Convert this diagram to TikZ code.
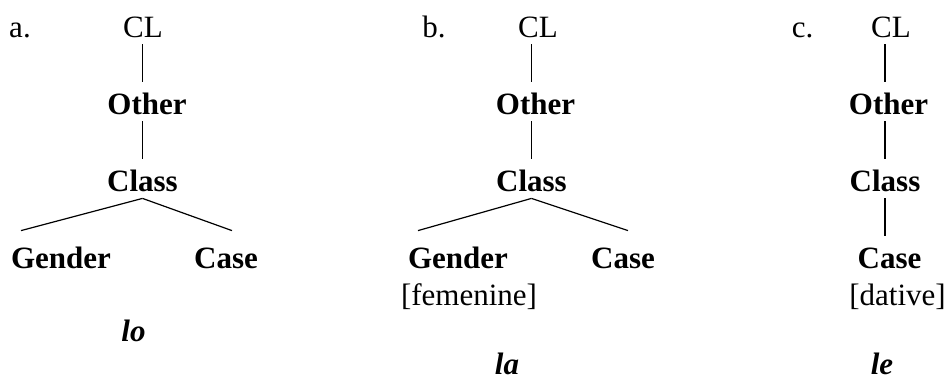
\documentclass[tikz,border=0pt]{standalone}
\usepackage{fontspec}
\setmainfont{Liberation Serif}
\usepackage{tikz}
\usetikzlibrary{positioning}
\newcommand{\treesize}{\fontsize{15.5}{18.5}\selectfont}
\tikzstyle{lbl} = [inner xsep=2pt, inner ysep=2pt, text height=14pt, text depth=1.5pt, font=\treesize]
\tikzstyle{cat} = [lbl, font=\treesize\bfseries]
\tikzstyle{form} = [lbl, font=\treesize\bfseries\itshape]
\tikzstyle{line} = [draw, line width=0.6pt]

\begin{document}
\begin{tikzpicture}[node distance=38.5pt]
    \useasboundingbox (0,0) rectangle (474pt,-190.5pt);
    % Tree a
    \node [lbl] (lbla) at (10pt,-12.25pt) {a.};
    \node [lbl] (cla) at (71.5pt,-12.25pt) {CL};
    \node [cat, below of=cla, xshift=2pt] (otha) {Other};
    \node [cat, below of=otha, xshift=-2.25pt] (clsa) {Class};
    \node [cat, below of=clsa, xshift=-40.75pt] (gena) {Gender};
    \node [cat, below of=clsa, xshift=41.75pt] (casa) {Case};
    \node [form] (lo) at (66.75pt,-164.25pt) {lo};
    % Tree b
    \node [lbl] (lblb) at (217pt,-12.25pt) {b.};
    \node [lbl] (clb) at (269pt,-12.25pt) {CL};
    \node [cat, below of=clb, xshift=-1.25pt] (othb) {Other};
    \node [cat, below of=othb, xshift=-2pt] (clsb) {Class};
    \node [cat, below of=clsb, xshift=-36.75pt] (genb) {Gender};
    \node [cat, below of=clsb, xshift=45.75pt] (casb) {Case};
    \node [lbl, below of=genb, node distance=18.5pt, xshift=5.5pt] (femb) {[femenine]};
    \node [form] (la) at (253.5pt,-180.75pt) {la};
    % Tree c
    \node [lbl] (lblc) at (401.25pt,-12.25pt) {c.};
    \node [lbl] (clc) at (445.5pt,-12.25pt) {CL};
    \node [cat, below of=clc, xshift=-1.25pt] (othc) {Other};
    \node [cat, below of=othc, xshift=-1.75pt] (clsc) {Class};
    \node [cat, below of=clsc, xshift=2.25pt] (casc) {Case};
    \node [lbl, below of=casc, node distance=18.5pt, xshift=4pt] (datc) {[dative]};
    \node [form] (le) at (441pt,-181pt) {le};
    % Draw edges
    \path [line] (cla.south -| clsa) -- (otha.north -| clsa);
    \path [line] (otha.south -| clsa) -- (clsa);
    \path [line] (clsa.south) -- ([xshift=-20pt, yshift=2.5pt]gena.north);
    \path [line] (clsa.south) -- ([xshift=3pt, yshift=2.5pt]casa.north);
    \path [line] (clb.south -| clsb) -- (othb.north -| clsb);
    \path [line] (othb.south -| clsb) -- (clsb);
    \path [line] (clsb.south) -- ([xshift=-20pt, yshift=2.5pt]genb.north);
    \path [line] (clsb.south) -- ([xshift=2.5pt, yshift=2.5pt]casb.north);
    \path [line] (clc.south -| clsc) -- (othc.north -| clsc);
    \path [line] (othc.south -| clsc) -- (clsc);
    \path [line] (clsc.south) -- (casc.north -| clsc);
\end{tikzpicture}
\end{document}
